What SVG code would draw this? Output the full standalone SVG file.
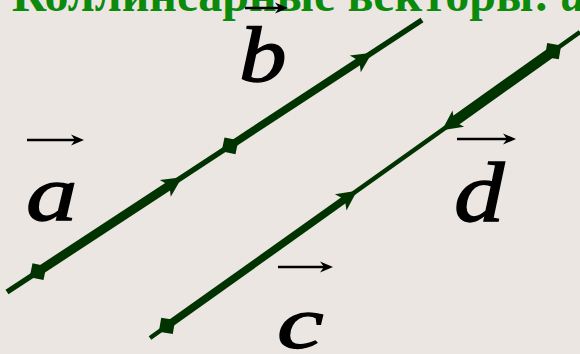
<svg xmlns="http://www.w3.org/2000/svg" xmlns:xlink="http://www.w3.org/1999/xlink" width="580" height="354" viewBox="0 0 580 354">
  <style>
    .title { font-family: "Liberation Serif", "Times New Roman", serif; font-weight: bold; font-size: 48px; fill: #0b8a0b; }
    .lbl { font-family: "Liberation Serif", "Times New Roman", serif; font-style: italic; fill: #000; stroke: #000; stroke-width: 1.3; }
    .base { stroke: #003300; fill: none; stroke-linecap: butt; }
    .vec { stroke: #003300; fill: none; stroke-linecap: butt; }
    .head { fill: #003300; }
    .over { stroke: #000; stroke-width: 2.6; fill: none; }
    .ohead { fill: #000; }
  </style>
  <defs>
    <path id="arrowhead" d="M0,0 L-20,-10 L-15,0 L-20,10 Z"/>
    <path id="diamond" d="M-10,0 L0,-10 L10,0 L0,10 Z"/>
    <path id="smallhead" d="M0,0 L-13,-5.5 L-9,0 L-13,5.5 Z"/>
  </defs>
  <rect width="580" height="354" fill="#ebe6e2"/>

  <g id="title">
    <text class="title" x="12" y="11">Коллинеарные векторы: <tspan font-style="italic">a</tspan></text>
  </g>

  <g id="connectors">
    <!-- base lines -->
    <line class="base" x1="7" y1="292" x2="422" y2="20" stroke-width="5.5"/>
    <line class="base" x1="150" y1="338" x2="580" y2="32" stroke-width="4.5"/>

    <!-- vector a -->
    <line class="vec" x1="38" y1="271.7" x2="170.3" y2="185" stroke-width="9"/>
    <use href="#diamond" class="head" transform="translate(38,271.7) rotate(-33.24)"/>
    <use href="#arrowhead" class="head" transform="translate(182,177.3) rotate(-33.24)"/>

    <!-- vector b -->
    <line class="vec" x1="230" y1="145.8" x2="360.3" y2="60.5" stroke-width="7.5"/>
    <use href="#diamond" class="head" transform="translate(230,145.8) rotate(-33.24)"/>
    <use href="#arrowhead" class="head" transform="translate(372,52.8) rotate(-33.24)"/>

    <!-- vector c -->
    <line class="vec" x1="167" y1="325.9" x2="345.6" y2="198.8" stroke-width="7.5"/>
    <use href="#diamond" class="head" transform="translate(167,325.9) rotate(-35.44)"/>
    <use href="#arrowhead" class="head" transform="translate(357,190.7) rotate(-35.44)"/>

    <!-- vector d -->
    <line class="vec" x1="553" y1="51.2" x2="453.4" y2="122.1" stroke-width="10.5"/>
    <use href="#diamond" class="head" transform="translate(553,51.2) rotate(-35.44)"/>
    <use href="#arrowhead" class="head" transform="translate(442,130.2) rotate(144.56)"/>
  </g>

  <g id="label-a">
    <line class="over" x1="27" y1="140" x2="75" y2="140"/>
    <use href="#smallhead" class="ohead" transform="translate(84,140)"/>
    <text class="lbl" font-size="78" transform="translate(26,220) scale(1.32,1)">a</text>
  </g>
  <g id="label-b">
    <line class="over" x1="245" y1="8" x2="279" y2="8"/>
    <use href="#smallhead" class="ohead" transform="translate(288,8)"/>
    <text class="lbl" font-size="78" transform="translate(239,81) scale(1.22,1)">b</text>
  </g>
  <g id="label-c">
    <line class="over" x1="278" y1="267" x2="324" y2="267"/>
    <use href="#smallhead" class="ohead" transform="translate(333,267)"/>
    <text class="lbl" font-size="74" transform="translate(277,348) scale(1.42,1)">c</text>
  </g>
  <g id="label-d">
    <line class="over" x1="457" y1="139" x2="507" y2="139"/>
    <use href="#smallhead" class="ohead" transform="translate(516,139)"/>
    <text class="lbl" font-size="84" transform="translate(454,221) scale(1.2,1)">d</text>
  </g>
</svg>
